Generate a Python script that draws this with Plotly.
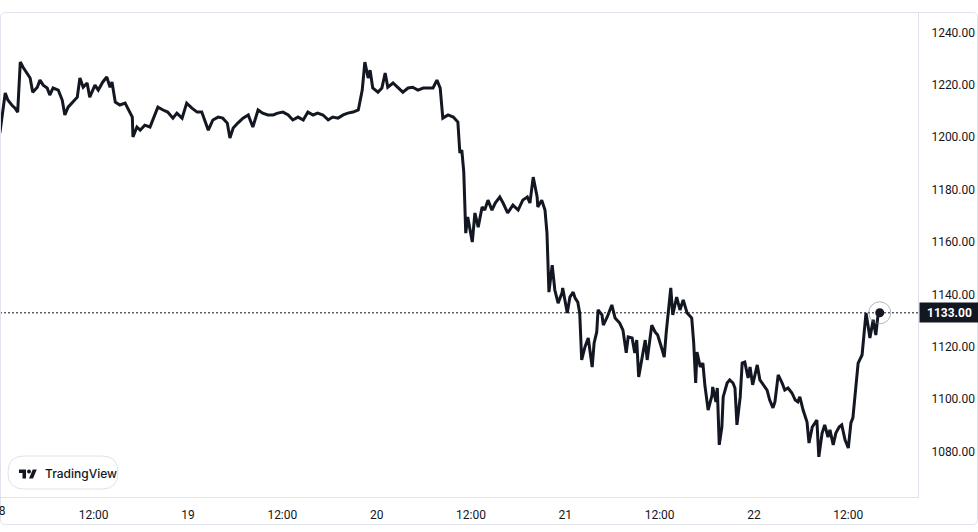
import pandas as pd
import plotly.graph_objects as go

# ---------------- data ----------------
start_day = "2024-03-18 00:00"
minutes = [
    -15, 5, 45, 65, 95, 120, 140, 160, 180, 210,
    235, 255, 290, 310, 335, 365, 385, 410, 450, 480,
    500, 525, 555, 595, 615, 640, 670, 690, 730, 755,
    790, 820, 845, 860, 885, 920, 960, 980, 1015, 1020,
    1050, 1075, 1110, 1150, 1175, 1210, 1250, 1285, 1325, 1355,
    1395, 1430, 1470, 1510, 1545, 1570, 1595, 1630, 1670, 1705,
    1740, 1760, 1785, 1820, 1860, 1900, 1935, 1975, 2010, 2050,
    2090, 2125, 2165, 2205, 2240, 2280, 2320, 2355, 2395, 2430,
    2470, 2510, 2545, 2585, 2625, 2660, 2700, 2740, 2770, 2790,
    2815, 2830, 2850, 2890, 2920, 2945, 2965, 3005, 3045, 3080,
    3120, 3155, 3195, 3235, 3270, 3310, 3340, 3365, 3385, 3425,
    3465, 3500, 3515, 3530, 3545, 3560, 3575, 3610, 3630, 3655,
    3685, 3705, 3730, 3760, 3785, 3820, 3845, 3880, 3920, 3960,
    3995, 4030, 4050, 4075, 4105, 4110, 4140, 4165, 4180, 4195,
    4220, 4240, 4265, 4295, 4300, 4335, 4355, 4380, 4395, 4415,
    4430, 4445, 4470, 4495, 4525, 4540, 4560, 4570, 4600, 4610,
    4640, 4675, 4700, 4735, 4760, 4785, 4800, 4830, 4850, 4865,
    4880, 4905, 4930, 4945, 4980, 5005, 5025, 5060, 5075, 5090,
    5105, 5125, 5140, 5170, 5195, 5220, 5250, 5285, 5300, 5315,
    5325, 5350, 5370, 5385, 5410, 5440, 5445, 5470, 5480, 5495,
    5515, 5525, 5555, 5575, 5600, 5615, 5630, 5655, 5670, 5690,
    5715, 5730, 5750, 5785, 5805, 5830, 5860, 5880, 5905, 5920,
    5945, 5975, 5995, 6020, 6050, 6075, 6095, 6110, 6135, 6165,
    6180, 6205, 6225, 6240, 6255, 6280, 6300, 6325, 6340, 6365,
    6385, 6410, 6430, 6455, 6480, 6500, 6515, 6540, 6555, 6585,
    6600, 6615, 6630, 6645, 6670, 6690, 6705, 6720,
]
prices = [
    1199.5, 1202.0, 1216.9, 1214.2, 1212.3, 1211.1, 1209.6, 1228.7, 1226.8, 1224.5,
    1222.6, 1217.2, 1219.1, 1221.8, 1219.9, 1218.8, 1216.1, 1218.8, 1218.0, 1214.2,
    1208.5, 1211.5, 1213.0, 1215.3, 1222.6, 1219.1, 1220.7, 1215.3, 1219.9, 1218.0,
    1221.1, 1223.0, 1219.1, 1221.1, 1213.4, 1212.3, 1213.0, 1211.1, 1207.7, 1200.1,
    1203.9, 1202.7, 1204.6, 1203.9, 1207.3, 1211.5, 1210.4, 1209.6, 1207.3, 1209.2,
    1207.3, 1213.0, 1211.1, 1209.6, 1209.6, 1205.8, 1202.7, 1206.6, 1207.7, 1207.3,
    1205.4, 1199.7, 1203.5, 1205.4, 1207.3, 1208.5, 1203.9, 1210.4, 1209.2, 1208.5,
    1208.5, 1209.2, 1209.6, 1208.5, 1206.6, 1207.7, 1206.6, 1209.6, 1208.5, 1209.2,
    1208.5, 1206.6, 1207.7, 1207.3, 1208.5, 1209.2, 1209.6, 1210.4, 1218.0, 1228.7,
    1222.6, 1225.6, 1218.8, 1217.2, 1218.8, 1224.5, 1219.1, 1220.7, 1218.8, 1217.2,
    1218.8, 1219.1, 1218.0, 1218.8, 1218.8, 1218.8, 1221.8, 1218.8, 1207.3, 1208.5,
    1207.7, 1205.8, 1194.0, 1195.1, 1186.7, 1163.4, 1169.6, 1160.0, 1171.1, 1165.7,
    1173.4, 1172.2, 1176.0, 1172.2, 1174.9, 1177.2, 1174.9, 1171.1, 1174.1, 1172.2,
    1176.0, 1177.2, 1174.9, 1184.8, 1177.2, 1173.4, 1176.0, 1172.2, 1163.4, 1140.9,
    1151.2, 1141.7, 1136.7, 1140.6, 1142.5, 1132.9, 1139.0, 1140.9, 1138.6, 1137.1,
    1132.9, 1115.0, 1120.0, 1123.4, 1112.3, 1121.5, 1125.7, 1134.1, 1132.2, 1128.3,
    1131.4, 1136.0, 1131.0, 1129.1, 1126.4, 1117.7, 1123.8, 1123.4, 1117.7, 1122.6,
    1108.5, 1115.0, 1122.6, 1115.0, 1128.3, 1125.7, 1124.5, 1118.8, 1116.1, 1125.3,
    1132.9, 1142.5, 1132.2, 1139.0, 1134.1, 1137.9, 1132.9, 1131.0, 1121.5, 1106.2,
    1118.0, 1112.3, 1113.8, 1105.5, 1095.9, 1101.6, 1104.7, 1099.0, 1104.3, 1082.6,
    1089.4, 1100.9, 1106.2, 1107.4, 1106.2, 1104.3, 1090.2, 1100.9, 1113.8, 1114.2,
    1108.1, 1112.3, 1105.5, 1113.1, 1107.4, 1105.5, 1103.5, 1099.7, 1096.7, 1099.0,
    1109.3, 1106.2, 1103.5, 1104.3, 1102.4, 1099.7, 1099.0, 1100.9, 1095.9, 1091.3,
    1083.3, 1089.4, 1091.0, 1092.1, 1078.0, 1087.1, 1090.2, 1085.6, 1088.3, 1082.6,
    1087.1, 1089.4, 1090.2, 1084.5, 1081.4, 1091.0, 1092.9, 1104.7, 1113.8, 1116.9,
    1126.4, 1132.9, 1128.3, 1123.4, 1130.3, 1124.5, 1131.4, 1133.0,
]
x_tick_minutes = [720, 1440, 2160, 2880, 3600, 4320, 5040, 5760, 6480]
x_tick_labels = ["12:00", "19", "12:00", "20", "12:00", "21", "12:00", "22", "12:00"]
first_day_label = "18"
y_ticks = [1080, 1100, 1120, 1140, 1160, 1180, 1200, 1220, 1240]
brand = "TradingView"

# ---------------- figure ----------------
W, H = 978, 532
ML, MR, MT, MB = 0, 60, 12, 35
PW, PH = W - ML - MR, H - MT - MB
INK = "#131722"
BORDER = "#e0e3eb"
FONT = "Roboto, Liberation Sans, Arial, sans-serif"

base = pd.Timestamp(start_day)
times = base + pd.to_timedelta(minutes, unit="min")
x_start_min, x_end_min = 5.1, 7012.0
x_range = [base + pd.Timedelta(minutes=x_start_min), base + pd.Timedelta(minutes=x_end_min)]
y_range = [1062.7, 1247.8]
last = prices[-1]


def px(xp):
    return (xp - ML) / PW


def py(yp):
    return (H - MB - yp) / PH


fig = go.Figure()
fig.add_trace(go.Scatter(
    x=times, y=prices, mode="lines",
    line=dict(color=INK, width=3), hoverinfo="skip", showlegend=False,
))
# last point marker with halo
fig.add_trace(go.Scatter(
    x=[times[-1]], y=[last], mode="markers", cliponaxis=False,
    marker=dict(size=22, color="rgba(0,0,0,0)", line=dict(color="rgba(120,123,134,0.55)", width=1)),
    hoverinfo="skip", showlegend=False,
))
fig.add_trace(go.Scatter(
    x=[times[-1]], y=[last], mode="markers", cliponaxis=False,
    marker=dict(size=9, color=INK), hoverinfo="skip", showlegend=False,
))

shapes = []
# last price dotted line
shapes.append(dict(type="line", xref="paper", yref="y", x0=0, x1=1, y0=last, y1=last,
                   line=dict(color=INK, width=1, dash="2px,2px"), layer="below"))


def rrect(x0, y0, x1, y1, r):
    return (f"M{px(x0 + r)},{py(y0)} L{px(x1 - r)},{py(y0)} Q{px(x1)},{py(y0)} {px(x1)},{py(y0 + r)} "
            f"L{px(x1)},{py(y1 - r)} Q{px(x1)},{py(y1)} {px(x1 - r)},{py(y1)} "
            f"L{px(x0 + r)},{py(y1)} Q{px(x0)},{py(y1)} {px(x0)},{py(y1 - r)} "
            f"L{px(x0)},{py(y0 + r)} Q{px(x0)},{py(y0)} {px(x0 + r)},{py(y0)} Z")


# outer frame
shapes.append(dict(type="path", xref="paper", yref="paper", path=rrect(0.5, 12.5, 977.5, 524.5, 5),
                   line=dict(color=BORDER, width=1), fillcolor="rgba(0,0,0,0)", layer="above"))
# brand pill
shapes.append(dict(type="path", xref="paper", yref="paper", path=rrect(8, 456, 118, 489, 16),
                   line=dict(color=BORDER, width=1), fillcolor="white", layer="above"))

# logo (pixel units, scaled)
lx, ly, s = 19.0, 469.5, 0.5


def lp(u, v):
    return f"{px(lx + s * u)},{py(ly + s * (v - 4))}"


logo_t = f"M{lp(14,22)} L{lp(7,22)} L{lp(7,11)} L{lp(0,11)} L{lp(0,4)} L{lp(14,4)} Z"
logo_s = f"M{lp(28,22)} L{lp(20,22)} L{lp(27.5,4)} L{lp(35.5,4)} Z"
for p in (logo_t, logo_s):
    shapes.append(dict(type="path", xref="paper", yref="paper", path=p,
                       line=dict(width=0), fillcolor=INK, layer="above"))
cx, cy, cr = lx + s * 20, ly + s * 4, s * 4
shapes.append(dict(type="circle", xref="paper", yref="paper",
                   x0=px(cx - cr), x1=px(cx + cr), y0=py(cy + cr), y1=py(cy - cr),
                   line=dict(width=0), fillcolor=INK, layer="above"))

annotations = [
    dict(xref="paper", yref="y", x=1, y=last, xanchor="left", yanchor="middle", xshift=1,
         text=f"{last:.2f}", showarrow=False, bgcolor=INK, width=55, height=15, borderpad=2,
         font=dict(family=FONT, size=12, color="white", weight="bold"), align="center"),
    dict(xref="paper", yref="paper", x=(0 - x_start_min) / (x_end_min - x_start_min),
         y=py(511), xanchor="center", yanchor="middle", text=first_day_label, showarrow=False,
         font=dict(family=FONT, size=12, color=INK)),
    dict(xref="paper", yref="paper", x=px(43), y=py(473), xanchor="left", yanchor="middle",
         text=brand, showarrow=False, font=dict(family="Inter, Roboto, sans-serif", size=12, color=INK, weight=500)),
]

fig.update_layout(
    width=W, height=H,
    margin=dict(l=ML, r=MR, t=MT, b=MB, pad=0),
    paper_bgcolor="white", plot_bgcolor="white",
    font=dict(family=FONT, size=12, color=INK),
    showlegend=False, hovermode=False,
    shapes=shapes, annotations=annotations,
    xaxis=dict(
        range=x_range, showgrid=False, zeroline=False,
        showline=True, linecolor=BORDER, linewidth=1,
        tickmode="array",
        tickvals=[base + pd.Timedelta(minutes=m) for m in x_tick_minutes],
        ticktext=x_tick_labels, ticks="", ticklabelstandoff=7,
        tickfont=dict(family=FONT, size=12, color=INK),
    ),
    yaxis=dict(
        range=y_range, side="right", showgrid=False, zeroline=False,
        showline=True, linecolor=BORDER, linewidth=1,
        tickmode="array", tickvals=y_ticks, tickformat=".2f",
        ticks="", ticklabelstandoff=10,
        tickfont=dict(family=FONT, size=12, color=INK),
    ),
)

fig.write_html(
    "out.html",
    config={"displayModeBar": False},
    post_script="document.body.style.margin='0';document.body.style.overflow='hidden';",
)
